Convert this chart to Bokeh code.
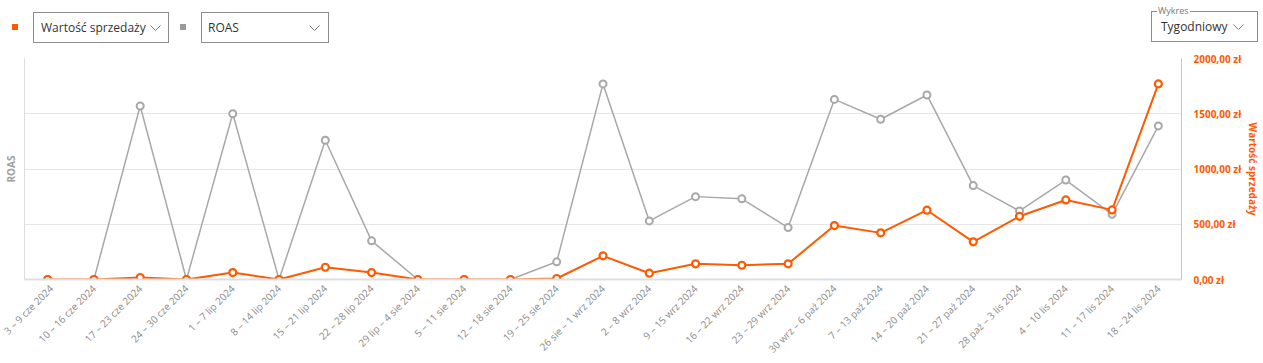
import math
from bokeh.plotting import figure
from bokeh.models import (Range1d, LinearAxis, FixedTicker, Div, FactorRange)
from bokeh.layouts import column
from bokeh.embed import file_html
from bokeh.resources import INLINE

weeks = ["3 – 9 cze 2024", "10 – 16 cze 2024", "17 – 23 cze 2024", "24 – 30 cze 2024",
         "1 – 7 lip 2024", "8 – 14 lip 2024", "15 – 21 lip 2024", "22 – 28 lip 2024",
         "29 lip – 4 sie 2024", "5 – 11 sie 2024", "12 – 18 sie 2024", "19 – 25 sie 2024",
         "26 sie – 1 wrz 2024", "2 – 8 wrz 2024", "9 – 15 wrz 2024", "16 – 22 wrz 2024",
         "23 – 29 wrz 2024", "30 wrz – 6 paź 2024", "7 – 13 paź 2024", "14 – 20 paź 2024",
         "21 – 27 paź 2024", "28 paź – 3 lis 2024", "4 – 10 lis 2024", "11 – 17 lis 2024",
         "18 – 24 lis 2024"]

sales = [0, 0, 18, 0, 63, 0, 111, 63, 0, 0, 0, 9, 214, 57, 142, 129, 142,
         488, 422, 627, 341, 572, 720, 630, 1770]

roas = [0, 0, 15.7, 0, 15.0, 0, 12.6, 3.5, 0, 0, 0, 1.6, 17.7, 5.3, 7.5, 7.3, 4.7,
        16.3, 14.5, 16.7, 8.5, 6.2, 9.0, 5.9, 13.9]

sales_ticks = [0, 500, 1000, 1500, 2000]
sales_tick_labels = ["0,00 zł", "500,00 zł", "1000,00 zł", "1500,00 zł", "2000,00 zł"]

ORANGE = "#ff5a00"
GRAY = "#a8a8a8"

chev = ('<svg width="11" height="7" style="position:absolute;left:{x}px;top:12px">'
        '<polyline points="0.5,0.5 5.5,5.5 10.5,0.5" fill="none" stroke="#777" stroke-width="1"/></svg>')

box = ('<div style="position:absolute;left:{l}px;top:{tp}px;width:{w}px;height:31px;box-sizing:border-box;'
       'border:1px solid #8c8c8c;background:white;">'
       '<span style="position:absolute;left:{tl}px;top:6px;font-size:12px;color:#333;white-space:nowrap;">{t}</span>'
       + chev + '{extra}</div>')

html = ('<div style="position:relative;width:1263px;height:48px;font-family:\'Open Sans\';">'
        '<div style="position:absolute;left:12px;top:24px;width:6px;height:6px;background:%s"></div>' % ORANGE
        + box.format(l=33, tp=12, w=136, tl=7, t="Wartość sprzedaży", x=116, extra="")
        + '<div style="position:absolute;left:180px;top:24px;width:6px;height:6px;background:#9a9a9a"></div>'
        + box.format(l=201, tp=12, w=128, tl=6, t="ROAS", x=107, extra="")
        + box.format(l=1151, tp=11, w=107, tl=9, t="Tygodniowy", x=81,
                     extra='<span style="position:absolute;left:5px;top:-7px;font-size:9px;color:#777;'
                           'background:white;padding:0 1px;line-height:12px;">Wykres</span>')
        + '</div>')

div = Div(text=html, width=1263, height=48, margin=(0, 0, 0, 0))

p = figure(x_range=FactorRange(*weeks), y_range=Range1d(0, 2000), width=1263, height=315,
           output_backend="svg", toolbar_location=None, y_axis_location="right",
           min_border_left=24, min_border_right=82, min_border_top=10, min_border_bottom=84,
           margin=(0, 0, 0, 0))
p.outline_line_color = None
p.extra_y_ranges = {"roas": Range1d(0, 20)}

# grid
p.xgrid.grid_line_color = None
p.ygrid.ticker = FixedTicker(ticks=[500, 1000, 1500])
p.ygrid.grid_line_color = "#e6e6e6"
p.ygrid.grid_line_width = 1

# right axis (sales)
ra = p.yaxis[0]
ra.ticker = FixedTicker(ticks=sales_ticks)
ra.major_label_overrides = dict(zip(sales_ticks, sales_tick_labels))
ra.major_label_text_color = ORANGE
ra.major_label_text_font = "Open Sans"
ra.major_label_text_font_style = "bold"
ra.major_label_text_font_size = "10px"
ra.major_tick_line_color = None
ra.minor_tick_line_color = None
ra.major_tick_out = 0
ra.major_tick_in = 0
ra.major_label_standoff = 12
ra.axis_line_color = "#ffb48a"
ra.axis_label = "Wartość sprzedaży"
ra.axis_label_text_color = ORANGE
ra.axis_label_text_font = "Open Sans"
ra.axis_label_text_font_style = "bold"
ra.axis_label_text_font_size = "10px"
ra.axis_label_standoff = 2

# left axis (ROAS)
la = LinearAxis(y_range_name="roas", ticker=FixedTicker(ticks=[]))
la.axis_line_color = "#d9dce1"
la.major_tick_out = 0
la.major_tick_in = 0
la.minor_tick_line_color = None
la.axis_label = "ROAS"
la.axis_label_text_color = "#a0a0a0"
la.axis_label_text_font = "Open Sans"
la.axis_label_text_font_style = "bold"
la.axis_label_text_font_size = "10px"
la.axis_label_standoff = 7
p.add_layout(la, "left")

# bottom axis
xa = p.xaxis[0]
xa.axis_line_color = "#dcdfe4"
xa.axis_line_width = 2
xa.major_tick_line_color = None
xa.major_tick_out = 0
xa.major_tick_in = 0
xa.major_label_orientation = math.pi / 4
xa.major_label_text_color = "#8a8a8a"
xa.major_label_text_font = "Open Sans"
xa.major_label_text_font_size = "10px"
xa.major_label_standoff = 7

# ROAS series
p.line(weeks, roas, y_range_name="roas", line_color=GRAY, line_width=1.5)
p.scatter(weeks, roas, y_range_name="roas", marker="circle", size=7,
          fill_color="white", line_color=GRAY, line_width=2)

# Sales series
p.line(weeks, sales, line_color=ORANGE, line_width=2)
p.scatter(weeks, sales, marker="circle", size=7,
          fill_color="white", line_color=ORANGE, line_width=2.2)

layout = column(div, p, spacing=0, margin=(0, 0, 0, 0))
open("out.html", "w").write(file_html(layout, INLINE))
